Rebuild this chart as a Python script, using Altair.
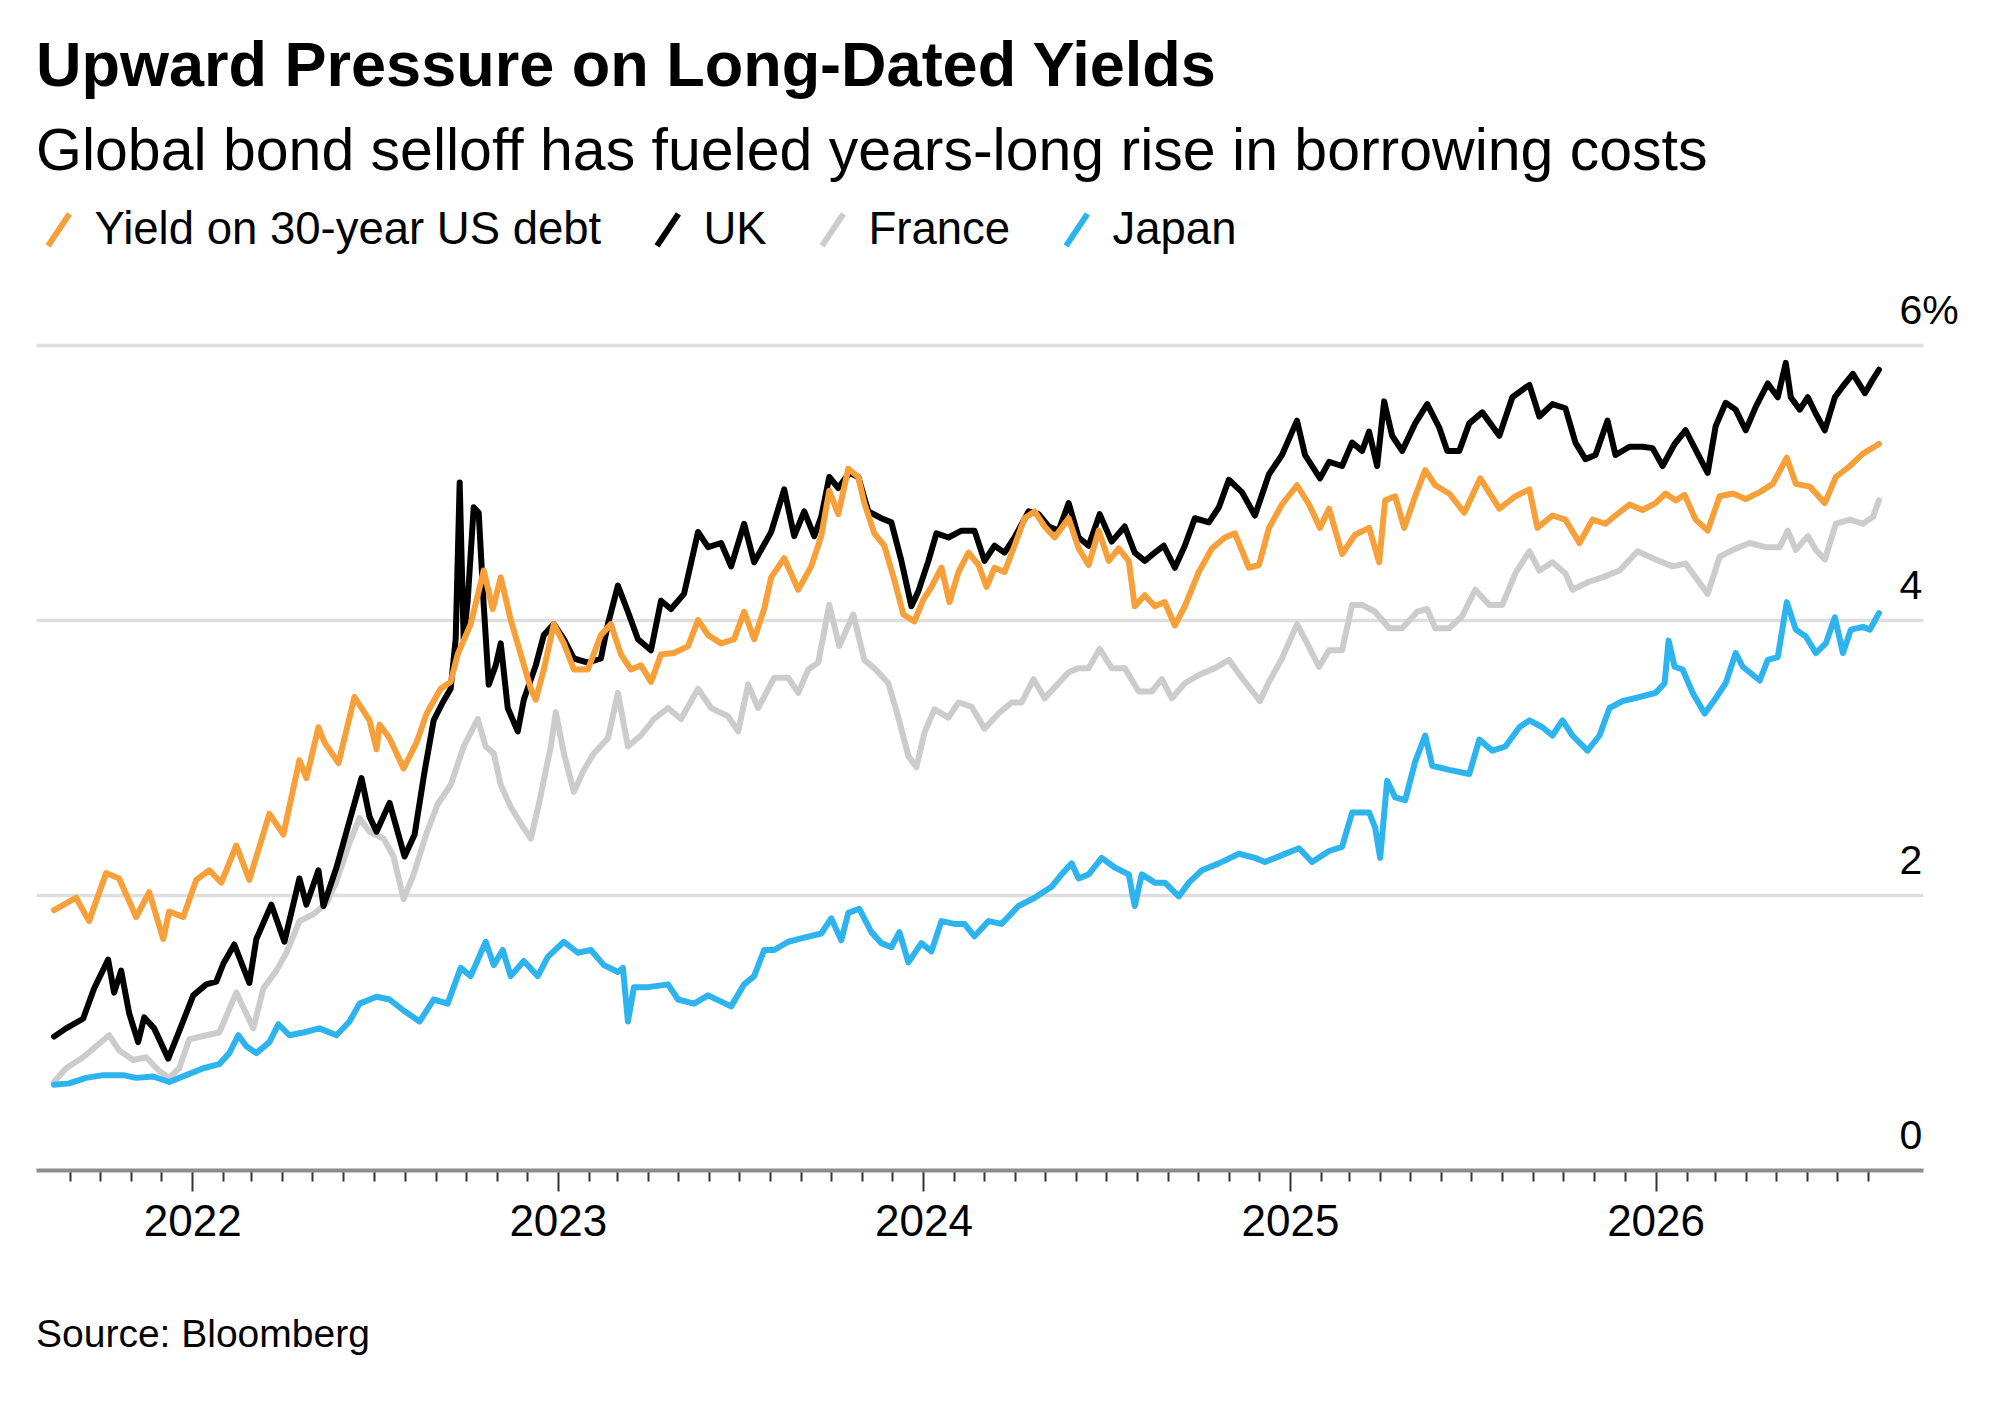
import altair as alt
import pandas as pd

TITLE = "Upward Pressure on Long-Dated Yields"
SUBTITLE = "Global bond selloff has fueled years-long rise in borrowing costs"
SOURCE = "Source: Bloomberg"
SERIES = ["Yield on 30-year US debt", "UK", "France", "Japan"]
COLORS = ["#F7A03A", "#000000", "#CCCCCC", "#2DB4EE"]
DRAW_ORDER = ["France", "Japan", "UK", "Yield on 30-year US debt"]
Y_TICKS = [0, 2, 4, 6]

us = [
    ("2021-08-16", 1.89), ("2021-09-07", 1.98), ("2021-09-20", 1.81), ("2021-10-07", 2.16), ("2021-10-20", 2.12),
    ("2021-11-06", 1.84), ("2021-11-19", 2.02), ("2021-12-03", 1.68), ("2021-12-09", 1.88), ("2021-12-23", 1.84),
    ("2022-01-05", 2.11), ("2022-01-18", 2.18), ("2022-01-30", 2.09), ("2022-02-14", 2.36), ("2022-02-27", 2.11),
    ("2022-03-19", 2.59), ("2022-04-02", 2.44), ("2022-04-18", 2.98), ("2022-04-25", 2.85), ("2022-05-07", 3.22),
    ("2022-05-13", 3.11), ("2022-05-27", 2.96), ("2022-06-12", 3.44), ("2022-06-27", 3.27), ("2022-07-04", 3.06),
    ("2022-07-07", 3.24), ("2022-07-17", 3.14), ("2022-07-31", 2.92), ("2022-08-13", 3.11), ("2022-08-23", 3.32),
    ("2022-09-06", 3.50), ("2022-09-16", 3.55), ("2022-09-23", 3.75), ("2022-10-06", 3.97), ("2022-10-19", 4.36),
    ("2022-10-28", 4.08), ("2022-11-05", 4.31), ("2022-11-15", 4.00), ("2022-11-25", 3.75), ("2022-12-05", 3.50),
    ("2022-12-10", 3.42), ("2022-12-18", 3.64), ("2022-12-28", 3.97),
    ("2023-01-07", 3.83), ("2023-01-17", 3.64), ("2023-01-31", 3.64), ("2023-02-13", 3.89), ("2023-02-23", 3.97),
    ("2023-03-05", 3.75), ("2023-03-15", 3.64), ("2023-03-25", 3.67), ("2023-04-04", 3.55), ("2023-04-14", 3.75),
    ("2023-04-27", 3.76), ("2023-05-11", 3.81), ("2023-05-21", 4.00), ("2023-05-31", 3.89), ("2023-06-13", 3.83),
    ("2023-06-26", 3.86), ("2023-07-06", 4.06), ("2023-07-16", 3.86), ("2023-07-26", 4.08), ("2023-08-02", 4.31),
    ("2023-08-15", 4.45), ("2023-08-29", 4.22), ("2023-09-11", 4.39), ("2023-09-21", 4.61), ("2023-09-29", 4.94),
    ("2023-10-08", 4.77), ("2023-10-18", 5.10), ("2023-10-28", 5.04), ("2023-11-03", 4.85), ("2023-11-13", 4.63),
    ("2023-11-23", 4.54), ("2023-12-03", 4.29), ("2023-12-12", 4.04), ("2023-12-23", 3.99),
    ("2024-01-01", 4.15), ("2024-01-09", 4.24), ("2024-01-19", 4.38), ("2024-01-27", 4.13), ("2024-02-05", 4.35),
    ("2024-02-15", 4.49), ("2024-02-25", 4.40), ("2024-03-04", 4.24), ("2024-03-12", 4.38), ("2024-03-22", 4.35),
    ("2024-04-01", 4.54), ("2024-04-11", 4.74), ("2024-04-21", 4.79), ("2024-05-01", 4.68), ("2024-05-11", 4.60),
    ("2024-05-25", 4.74), ("2024-06-04", 4.52), ("2024-06-14", 4.40), ("2024-06-24", 4.65), ("2024-07-04", 4.43),
    ("2024-07-14", 4.52), ("2024-07-24", 4.43), ("2024-07-30", 4.10), ("2024-08-09", 4.18), ("2024-08-19", 4.10),
    ("2024-08-29", 4.13), ("2024-09-08", 3.96), ("2024-09-18", 4.10), ("2024-10-02", 4.35), ("2024-10-15", 4.52),
    ("2024-10-28", 4.60), ("2024-11-07", 4.63), ("2024-11-21", 4.38), ("2024-12-01", 4.40), ("2024-12-11", 4.67),
    ("2024-12-24", 4.84),
    ("2025-01-08", 4.98), ("2025-01-20", 4.84), ("2025-01-31", 4.67), ("2025-02-09", 4.81), ("2025-02-22", 4.48),
    ("2025-03-07", 4.62), ("2025-03-21", 4.67), ("2025-03-31", 4.42), ("2025-04-06", 4.87), ("2025-04-16", 4.90),
    ("2025-04-25", 4.67), ("2025-05-06", 4.90), ("2025-05-16", 5.09), ("2025-05-26", 4.98), ("2025-06-09", 4.92),
    ("2025-06-24", 4.78), ("2025-07-10", 5.03), ("2025-07-29", 4.81), ("2025-08-14", 4.90), ("2025-08-28", 4.95),
    ("2025-09-05", 4.67), ("2025-09-20", 4.76), ("2025-10-03", 4.73), ("2025-10-17", 4.56), ("2025-10-30", 4.73),
    ("2025-11-12", 4.70), ("2025-11-22", 4.76), ("2025-12-06", 4.84), ("2025-12-19", 4.80),
    ("2026-01-01", 4.85), ("2026-01-11", 4.92), ("2026-01-21", 4.87), ("2026-01-30", 4.91), ("2026-02-10", 4.73),
    ("2026-02-22", 4.65), ("2026-03-06", 4.90), ("2026-03-19", 4.92), ("2026-04-01", 4.88), ("2026-04-15", 4.93),
    ("2026-04-28", 4.99), ("2026-05-12", 5.18), ("2026-05-21", 4.99), ("2026-06-04", 4.97), ("2026-06-19", 4.85),
    ("2026-06-30", 5.04), ("2026-07-14", 5.12), ("2026-07-27", 5.21), ("2026-08-12", 5.28),
]

uk = [
    ("2021-08-16", 0.97), ("2021-08-28", 1.03), ("2021-09-14", 1.10), ("2021-09-25", 1.32), ("2021-10-09", 1.53),
    ("2021-10-15", 1.29), ("2021-10-22", 1.45), ("2021-10-30", 1.14), ("2021-11-08", 0.93), ("2021-11-14", 1.11),
    ("2021-11-24", 1.03), ("2021-12-08", 0.81), ("2021-12-19", 1.01),
    ("2022-01-02", 1.27), ("2022-01-15", 1.35), ("2022-01-25", 1.37), ("2022-02-01", 1.50), ("2022-02-12", 1.64),
    ("2022-02-27", 1.36), ("2022-03-06", 1.68), ("2022-03-21", 1.93), ("2022-04-03", 1.66), ("2022-04-18", 2.12),
    ("2022-04-25", 1.93), ("2022-05-07", 2.18), ("2022-05-12", 1.92), ("2022-05-25", 2.20), ("2022-06-04", 2.46),
    ("2022-06-19", 2.85), ("2022-06-27", 2.57), ("2022-07-04", 2.46), ("2022-07-17", 2.67), ("2022-08-01", 2.28),
    ("2022-08-11", 2.44), ("2022-08-21", 2.90), ("2022-08-30", 3.27), ("2022-09-08", 3.40), ("2022-09-16", 3.50),
    ("2022-09-21", 3.86), ("2022-09-25", 5.00), ("2022-09-29", 3.86), ("2022-10-03", 4.14), ("2022-10-09", 4.82),
    ("2022-10-14", 4.78), ("2022-10-19", 4.11), ("2022-10-24", 3.53), ("2022-10-31", 3.67), ("2022-11-05", 3.83),
    ("2022-11-12", 3.36), ("2022-11-22", 3.19), ("2022-11-28", 3.42), ("2022-12-10", 3.67), ("2022-12-18", 3.89),
    ("2022-12-28", 3.97),
    ("2023-01-07", 3.86), ("2023-01-17", 3.72), ("2023-01-31", 3.69), ("2023-02-13", 3.72), ("2023-02-20", 3.97),
    ("2023-03-02", 4.25), ("2023-03-12", 4.06), ("2023-03-22", 3.86), ("2023-04-04", 3.78), ("2023-04-14", 4.14),
    ("2023-04-24", 4.08), ("2023-05-07", 4.19), ("2023-05-21", 4.64), ("2023-05-31", 4.53), ("2023-06-13", 4.56),
    ("2023-06-23", 4.39), ("2023-07-06", 4.70), ("2023-07-16", 4.42), ("2023-08-02", 4.64), ("2023-08-15", 4.95),
    ("2023-08-25", 4.61), ("2023-09-04", 4.79), ("2023-09-14", 4.61), ("2023-09-21", 4.75), ("2023-09-29", 5.04),
    ("2023-10-08", 4.96), ("2023-10-19", 5.07), ("2023-10-28", 5.04), ("2023-11-07", 4.79), ("2023-11-20", 4.74),
    ("2023-11-30", 4.71), ("2023-12-10", 4.43), ("2023-12-20", 4.10), ("2023-12-27", 4.21),
    ("2024-01-06", 4.43), ("2024-01-14", 4.63), ("2024-01-26", 4.60), ("2024-02-08", 4.65), ("2024-02-21", 4.65),
    ("2024-03-02", 4.43), ("2024-03-12", 4.54), ("2024-03-22", 4.49), ("2024-04-01", 4.60), ("2024-04-15", 4.79),
    ("2024-04-25", 4.77), ("2024-05-05", 4.68), ("2024-05-15", 4.65), ("2024-05-25", 4.85), ("2024-06-04", 4.60),
    ("2024-06-14", 4.54), ("2024-06-25", 4.77), ("2024-07-07", 4.57), ("2024-07-20", 4.68), ("2024-07-30", 4.49),
    ("2024-08-09", 4.43), ("2024-08-19", 4.49), ("2024-08-28", 4.54), ("2024-09-08", 4.38), ("2024-09-18", 4.54),
    ("2024-09-28", 4.74), ("2024-10-12", 4.71), ("2024-10-22", 4.82), ("2024-11-01", 5.02), ("2024-11-14", 4.93),
    ("2024-11-27", 4.76), ("2024-12-11", 5.06), ("2024-12-24", 5.20),
    ("2025-01-08", 5.45), ("2025-01-16", 5.20), ("2025-01-31", 5.03), ("2025-02-09", 5.15), ("2025-02-22", 5.12),
    ("2025-03-04", 5.29), ("2025-03-14", 5.23), ("2025-03-21", 5.37), ("2025-03-29", 5.12), ("2025-04-05", 5.59),
    ("2025-04-13", 5.34), ("2025-04-23", 5.23), ("2025-05-06", 5.43), ("2025-05-18", 5.57), ("2025-05-30", 5.40),
    ("2025-06-07", 5.23), ("2025-06-19", 5.23), ("2025-06-29", 5.43), ("2025-07-12", 5.51), ("2025-07-29", 5.34),
    ("2025-08-11", 5.62), ("2025-08-28", 5.71), ("2025-09-07", 5.48), ("2025-09-20", 5.57), ("2025-10-03", 5.54),
    ("2025-10-13", 5.29), ("2025-10-23", 5.17), ("2025-11-02", 5.20), ("2025-11-14", 5.45), ("2025-11-22", 5.20),
    ("2025-12-06", 5.26), ("2025-12-19", 5.26), ("2025-12-29", 5.25),
    ("2026-01-08", 5.12), ("2026-01-20", 5.28), ("2026-01-31", 5.38), ("2026-02-12", 5.21), ("2026-02-22", 5.07),
    ("2026-03-02", 5.41), ("2026-03-12", 5.58), ("2026-03-22", 5.53), ("2026-04-01", 5.38), ("2026-04-11", 5.55),
    ("2026-04-23", 5.72), ("2026-05-03", 5.62), ("2026-05-11", 5.87), ("2026-05-16", 5.62), ("2026-05-25", 5.53),
    ("2026-06-02", 5.62), ("2026-06-10", 5.50), ("2026-06-19", 5.38), ("2026-06-29", 5.62), ("2026-07-07", 5.70),
    ("2026-07-17", 5.79), ("2026-07-29", 5.65), ("2026-08-06", 5.75), ("2026-08-12", 5.82),
]

france = [
    ("2021-08-16", 0.64), ("2021-08-28", 0.74), ("2021-09-14", 0.82), ("2021-09-27", 0.90), ("2021-10-10", 0.98),
    ("2021-10-20", 0.87), ("2021-11-03", 0.80), ("2021-11-16", 0.82), ("2021-11-29", 0.72), ("2021-12-09", 0.67),
    ("2021-12-19", 0.74), ("2021-12-29", 0.95),
    ("2022-01-15", 0.98), ("2022-01-28", 1.00), ("2022-02-14", 1.29), ("2022-03-03", 1.03), ("2022-03-13", 1.32),
    ("2022-03-26", 1.45), ("2022-04-05", 1.58), ("2022-04-18", 1.81), ("2022-05-02", 1.86), ("2022-05-15", 1.94),
    ("2022-05-25", 2.10), ("2022-06-07", 2.38), ("2022-06-17", 2.56), ("2022-06-27", 2.46), ("2022-07-11", 2.41),
    ("2022-07-21", 2.28), ("2022-07-31", 1.97), ("2022-08-10", 2.15), ("2022-08-23", 2.45), ("2022-09-03", 2.66),
    ("2022-09-16", 2.80), ("2022-09-29", 3.08), ("2022-10-13", 3.28), ("2022-10-21", 3.08), ("2022-10-29", 3.03),
    ("2022-11-05", 2.80), ("2022-11-15", 2.64), ("2022-11-25", 2.52), ("2022-12-05", 2.41), ("2022-12-13", 2.66),
    ("2022-12-25", 3.08), ("2022-12-30", 3.33),
    ("2023-01-07", 3.03), ("2023-01-17", 2.75), ("2023-01-27", 2.91), ("2023-02-06", 3.03), ("2023-02-20", 3.14),
    ("2023-03-02", 3.47), ("2023-03-12", 3.08), ("2023-03-25", 3.16), ("2023-04-07", 3.28), ("2023-04-21", 3.36),
    ("2023-05-04", 3.28), ("2023-05-21", 3.50), ("2023-06-03", 3.36), ("2023-06-20", 3.30), ("2023-06-30", 3.19),
    ("2023-07-10", 3.53), ("2023-07-20", 3.36), ("2023-08-05", 3.58), ("2023-08-19", 3.58), ("2023-08-29", 3.47),
    ("2023-09-08", 3.64), ("2023-09-18", 3.69), ("2023-09-29", 4.11), ("2023-10-09", 3.81), ("2023-10-23", 4.04),
    ("2023-11-03", 3.71), ("2023-11-13", 3.65), ("2023-11-27", 3.54), ("2023-12-07", 3.29), ("2023-12-17", 3.01),
    ("2023-12-25", 2.93),
    ("2024-01-02", 3.18), ("2024-01-12", 3.35), ("2024-01-26", 3.29), ("2024-02-05", 3.40), ("2024-02-18", 3.37),
    ("2024-03-02", 3.21), ("2024-03-16", 3.32), ("2024-03-29", 3.40), ("2024-04-08", 3.40), ("2024-04-20", 3.57),
    ("2024-05-01", 3.43), ("2024-05-11", 3.51), ("2024-05-25", 3.62), ("2024-06-04", 3.65), ("2024-06-14", 3.65),
    ("2024-06-25", 3.79), ("2024-07-07", 3.65), ("2024-07-20", 3.65), ("2024-08-03", 3.48), ("2024-08-16", 3.48),
    ("2024-08-26", 3.57), ("2024-09-05", 3.43), ("2024-09-18", 3.54), ("2024-10-02", 3.60), ("2024-10-18", 3.65),
    ("2024-11-01", 3.71), ("2024-11-14", 3.58), ("2024-12-02", 3.41), ("2024-12-11", 3.55), ("2024-12-24", 3.72),
    ("2025-01-08", 3.97), ("2025-01-16", 3.86), ("2025-01-30", 3.66), ("2025-02-09", 3.78), ("2025-02-22", 3.78),
    ("2025-03-04", 4.11), ("2025-03-14", 4.11), ("2025-03-27", 4.06), ("2025-04-10", 3.94), ("2025-04-23", 3.94),
    ("2025-05-08", 4.06), ("2025-05-18", 4.08), ("2025-05-26", 3.94), ("2025-06-09", 3.94), ("2025-06-22", 4.03),
    ("2025-07-05", 4.22), ("2025-07-19", 4.11), ("2025-08-01", 4.11), ("2025-08-14", 4.34), ("2025-08-28", 4.50),
    ("2025-09-07", 4.36), ("2025-09-20", 4.42), ("2025-10-03", 4.34), ("2025-10-10", 4.22), ("2025-10-27", 4.28),
    ("2025-11-09", 4.31), ("2025-11-26", 4.36), ("2025-12-14", 4.50),
    ("2026-01-01", 4.44), ("2026-01-18", 4.39), ("2026-01-31", 4.41), ("2026-02-12", 4.29), ("2026-02-22", 4.19),
    ("2026-03-06", 4.46), ("2026-03-19", 4.51), ("2026-04-05", 4.56), ("2026-04-21", 4.53), ("2026-05-05", 4.53),
    ("2026-05-13", 4.65), ("2026-05-21", 4.51), ("2026-06-02", 4.61), ("2026-06-10", 4.51), ("2026-06-19", 4.44),
    ("2026-06-30", 4.70), ("2026-07-14", 4.73), ("2026-07-27", 4.70), ("2026-08-06", 4.75), ("2026-08-12", 4.87),
]

japan = [
    ("2021-08-16", 0.62), ("2021-08-31", 0.63), ("2021-09-17", 0.67), ("2021-10-04", 0.69), ("2021-10-24", 0.69),
    ("2021-11-06", 0.67), ("2021-11-23", 0.68), ("2021-12-09", 0.64), ("2021-12-26", 0.69),
    ("2022-01-12", 0.74), ("2022-01-28", 0.77), ("2022-02-07", 0.85), ("2022-02-16", 0.98), ("2022-02-24", 0.90),
    ("2022-03-06", 0.85), ("2022-03-19", 0.93), ("2022-03-28", 1.06), ("2022-04-08", 0.98), ("2022-04-22", 1.00),
    ("2022-05-08", 1.03), ("2022-05-25", 0.98), ("2022-06-07", 1.08), ("2022-06-17", 1.21), ("2022-07-04", 1.26),
    ("2022-07-17", 1.24), ("2022-07-31", 1.16), ("2022-08-16", 1.08), ("2022-08-30", 1.24), ("2022-09-13", 1.21),
    ("2022-09-26", 1.47), ("2022-10-06", 1.41), ("2022-10-21", 1.66), ("2022-10-29", 1.49), ("2022-11-07", 1.60),
    ("2022-11-15", 1.41), ("2022-11-28", 1.52), ("2022-12-12", 1.41), ("2022-12-22", 1.55),
    ("2023-01-07", 1.66), ("2023-01-21", 1.58), ("2023-02-03", 1.60), ("2023-02-16", 1.49), ("2023-03-02", 1.44),
    ("2023-03-07", 1.47), ("2023-03-12", 1.08), ("2023-03-18", 1.33), ("2023-04-01", 1.33), ("2023-04-21", 1.35),
    ("2023-05-01", 1.24), ("2023-05-17", 1.21), ("2023-05-31", 1.27), ("2023-06-23", 1.19), ("2023-07-06", 1.35),
    ("2023-07-16", 1.41), ("2023-07-26", 1.60), ("2023-08-05", 1.60), ("2023-08-19", 1.66), ("2023-09-04", 1.69),
    ("2023-09-21", 1.72), ("2023-10-01", 1.83), ("2023-10-11", 1.67), ("2023-10-18", 1.87), ("2023-10-29", 1.90),
    ("2023-11-10", 1.73), ("2023-11-20", 1.65), ("2023-11-30", 1.62), ("2023-12-08", 1.73), ("2023-12-17", 1.51),
    ("2023-12-30", 1.65),
    ("2024-01-09", 1.59), ("2024-01-19", 1.81), ("2024-02-01", 1.79), ("2024-02-11", 1.79), ("2024-02-21", 1.70),
    ("2024-03-06", 1.81), ("2024-03-19", 1.79), ("2024-04-05", 1.92), ("2024-04-21", 1.98), ("2024-05-08", 2.06),
    ("2024-05-18", 2.15), ("2024-05-28", 2.23), ("2024-06-04", 2.12), ("2024-06-14", 2.15), ("2024-06-27", 2.27),
    ("2024-07-10", 2.20), ("2024-07-24", 2.15), ("2024-07-30", 1.92), ("2024-08-06", 2.15), ("2024-08-19", 2.09),
    ("2024-08-29", 2.09), ("2024-09-12", 1.99), ("2024-09-22", 2.09), ("2024-10-05", 2.18), ("2024-10-22", 2.23),
    ("2024-11-11", 2.30), ("2024-11-27", 2.27), ("2024-12-07", 2.24), ("2024-12-24", 2.29),
    ("2025-01-10", 2.34), ("2025-01-23", 2.24), ("2025-02-09", 2.32), ("2025-02-22", 2.35), ("2025-03-04", 2.60),
    ("2025-03-21", 2.60), ("2025-03-27", 2.49), ("2025-04-01", 2.27), ("2025-04-08", 2.83), ("2025-04-16", 2.71),
    ("2025-04-26", 2.69), ("2025-05-06", 2.97), ("2025-05-16", 3.16), ("2025-05-23", 2.94), ("2025-06-09", 2.91),
    ("2025-06-29", 2.88), ("2025-07-09", 3.13), ("2025-07-22", 3.05), ("2025-08-04", 3.08), ("2025-08-18", 3.22),
    ("2025-08-28", 3.27), ("2025-09-10", 3.22), ("2025-09-20", 3.16), ("2025-09-30", 3.27), ("2025-10-10", 3.16),
    ("2025-10-25", 3.05), ("2025-11-06", 3.16), ("2025-11-16", 3.36), ("2025-11-29", 3.41), ("2025-12-16", 3.44),
    ("2026-01-01", 3.47), ("2026-01-10", 3.54), ("2026-01-14", 3.85), ("2026-01-20", 3.66), ("2026-01-28", 3.64),
    ("2026-02-07", 3.47), ("2026-02-19", 3.32), ("2026-03-01", 3.42), ("2026-03-12", 3.54), ("2026-03-22", 3.76),
    ("2026-03-29", 3.66), ("2026-04-15", 3.56), ("2026-04-23", 3.71), ("2026-05-03", 3.73), ("2026-05-12", 4.13),
    ("2026-05-21", 3.93), ("2026-05-31", 3.88), ("2026-06-10", 3.76), ("2026-06-20", 3.83), ("2026-06-29", 4.02),
    ("2026-07-07", 3.76), ("2026-07-15", 3.93), ("2026-07-27", 3.95), ("2026-08-03", 3.93), ("2026-08-12", 4.05),
]

rows = []
for name, pts in zip(SERIES, [us, uk, france, japan]):
    for d, v in pts:
        rows.append({"date": d, "yield": v, "series": name})
df = pd.DataFrame(rows)

FONT = "Liberation Sans"

tick_months = pd.date_range("2021-09-01", "2026-08-01", freq="MS")
x_tick_values = [alt.DateTime(year=int(t.year), month=int(t.month), date=1, utc=True) for t in tick_months]

x_enc = alt.X(
    "date:T",
    scale=alt.Scale(
        type="utc",
        domain=[alt.DateTime(year=2021, month=7, date=29, utc=True),
                alt.DateTime(year=2026, month=9, date=25, utc=True)],
    ),
    axis=alt.Axis(
        title=None,
        values=x_tick_values,
        labelExpr="utcmonth(datum.value) == 0 ? utcFormat(datum.value, '%Y') : ''",
        tickSize={"condition": {"test": "utcmonth(datum.value) == 0", "value": 21}, "value": 11},
        tickColor="#333333",
        tickWidth=2,
        domainColor="#8C8C8C",
        domainWidth=4,
        labelFont=FONT,
        labelFontSize=44,
        labelColor="#000000",
        labelPadding=9,
        labelOverlap=False,
        labelFlush=False,
        grid=False,
    ),
)

y_enc = alt.Y(
    "yield:Q",
    scale=alt.Scale(domain=[0, 6], nice=False),
    axis=alt.Axis(
        title=None,
        orient="right",
        values=Y_TICKS,
        grid=True,
        gridColor="#DEDEDE",
        gridWidth=3.5,
        gridOpacity={"condition": {"test": "datum.value === 0", "value": 0}, "value": 1},
        domain=False,
        ticks=False,
        tickSize=0,
        labelAlign="left",
        labelBaseline="alphabetic",
        labelPadding=-24,
        labelOffset=-22,
        labelFont=FONT,
        labelFontSize=41,
        labelColor="#000000",
        labelExpr="datum.value == 6 ? '6%' : datum.label",
    ),
)

color_enc = alt.Color(
    "series:N",
    scale=alt.Scale(domain=SERIES, range=COLORS),
    legend=alt.Legend(
        title=None,
        orient="none",
        legendX=0,
        legendY=-138,
        direction="horizontal",
        symbolType="M-0.6,0.9L0.6,-0.9",
        symbolSize=1270,
        symbolStrokeWidth=6,
        labelFont=FONT,
        labelFontSize=45.5,
        labelColor="#000000",
        labelOffset=13,
        labelLimit=1000,
        columnPadding=43,
    ),
)

layers = [
    alt.Chart(df)
    .transform_filter(alt.datum.series == name)
    .mark_line(strokeWidth=6, strokeJoin="round", strokeCap="round")
    .encode(x=x_enc, y=y_enc, color=color_enc)
    for name in DRAW_ORDER
]

source = (
    alt.Chart(pd.DataFrame({"t": [SOURCE]}))
    .mark_text(align="left", baseline="alphabetic", font=FONT, fontSize=39, color="#000000")
    .encode(x=alt.value(0), y=alt.value(1002), text="t:N")
)

chart = (
    alt.layer(*layers, source)
    .properties(
        width=1887,
        height=825,
        view=alt.ViewBackground(stroke="transparent", strokeWidth=0),
        padding={"left": 28, "top": 28, "right": 10, "bottom": 10},
        title=alt.TitleParams(
            text=TITLE,
            subtitle=SUBTITLE,
            anchor="start",
            frame="group",
            font=FONT,
            fontSize=63,
            fontWeight="bold",
            color="#000000",
            subtitleFont=FONT,
            subtitleFontSize=59,
            subtitleColor="#000000",
            subtitlePadding=24,
            offset=25,
        ),
    )
    .configure_view(strokeWidth=0, stroke="transparent")
    .configure_axisY(domain=False, ticks=False)
    .configure(background="white", font=FONT)
)

chart.save("out.html", embed_options={"renderer": "svg", "actions": False})
